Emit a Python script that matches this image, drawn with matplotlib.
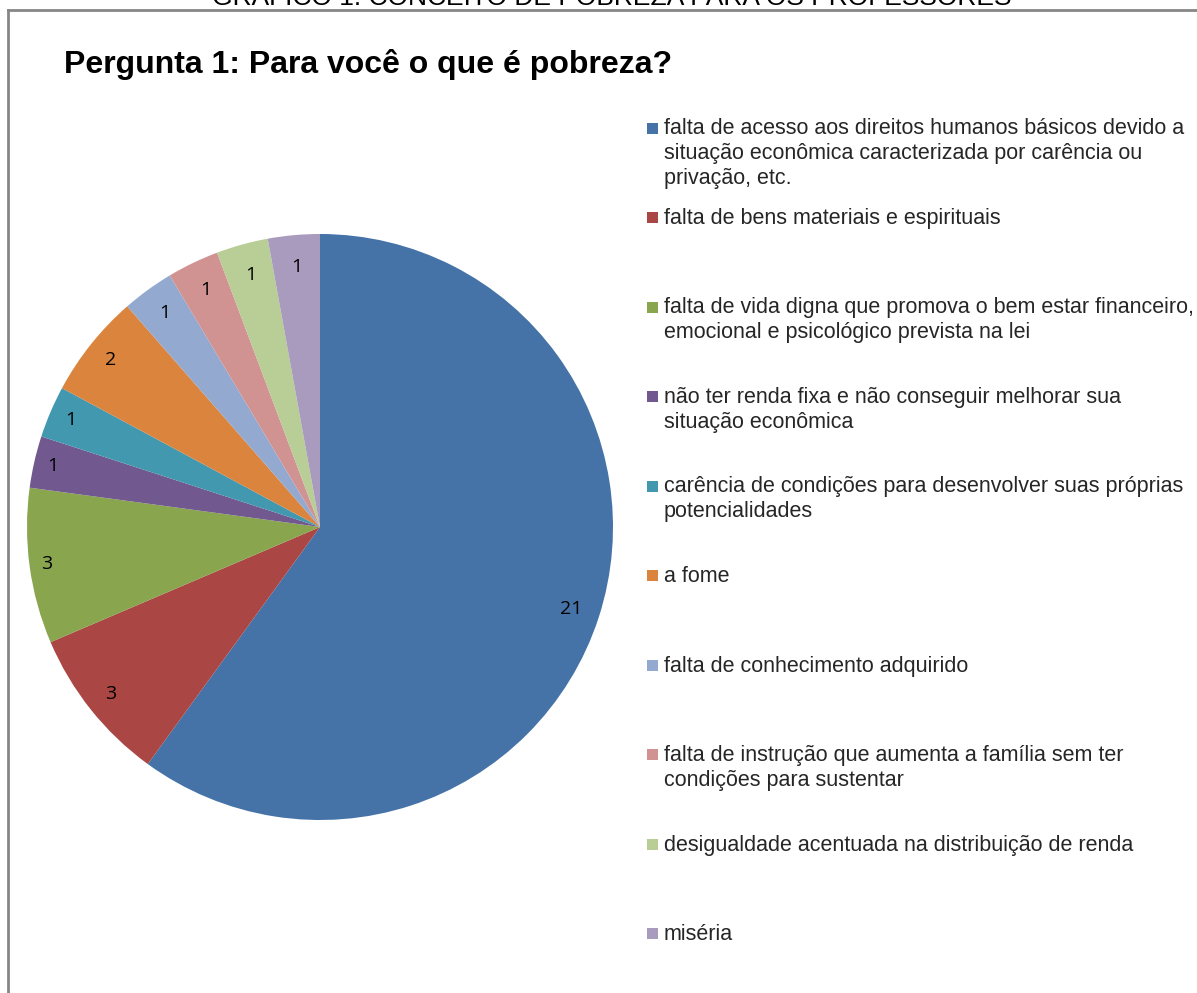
import matplotlib
matplotlib.use("Agg")
import numpy as np
import matplotlib.pyplot as plt
from matplotlib.patches import Rectangle
from matplotlib.lines import Line2D

W, H = 1197, 993

categories = [
    "falta de acesso aos direitos humanos básicos devido a\nsituação econômica caracterizada por carência ou\nprivação, etc.",
    "falta de bens materiais e espirituais",
    "falta de vida digna que promova o bem estar financeiro,\nemocional e psicológico prevista na lei",
    "não ter renda fixa e não conseguir melhorar sua\nsituação econômica",
    "carência de condições para desenvolver suas próprias\npotencialidades",
    "a fome",
    "falta de conhecimento adquirido",
    "falta de instrução que aumenta a família sem ter\ncondições para sustentar",
    "desigualdade acentuada na distribuição de renda",
    "miséria",
]
values = [21, 3, 3, 1, 1, 2, 1, 1, 1, 1]
colors = ["#4572A7", "#AA4643", "#89A54E", "#71588F", "#4198AF",
          "#DB843D", "#93A9CF", "#D19392", "#B9CD96", "#A99BBD"]

title = "Pergunta 1: Para você o que é pobreza?"
top_caption = "GRÁFICO 1: CONCEITO DE POBREZA PARA OS PROFESSORES"

plt.rcParams['font.family'] = ['Liberation Sans', 'DejaVu Sans']

fig = plt.figure(figsize=(W / 100, H / 100), dpi=100)

def fx(px):
    return px / W

def fy(py):
    return 1 - py / H

# frame border
fig.add_artist(Line2D([fx(8), fx(8)], [fy(10), fy(H + 5)], color="#868686", lw=2))
fig.add_artist(Line2D([fx(8), fx(W + 5)], [fy(10), fy(10)], color="#868686", lw=2))

# caption of the page, cut off at the top edge as in the source
fig.text(fx(612), fy(5), top_caption, ha="center", va="baseline", fontsize=19, color="#000000")

# chart title
fig.text(fx(64), fy(73), title, ha="left", va="baseline", fontsize=23, fontweight="bold")

# pie
cx, cy, r = 320, 527, 293
ax = fig.add_axes([fx(cx - r), fy(cy + r), 2 * r / W, 2 * r / H])
wedges, texts = ax.pie(values, colors=colors, startangle=90, counterclock=False,
                       labels=[str(v) for v in values], labeldistance=0.88,
                       wedgeprops=dict(edgecolor="none"),
                       textprops=dict(fontsize=14, family=["Open Sans", "DejaVu Sans"]))
for w, t in zip(wedges, texts):
    th = np.deg2rad((w.theta1 + w.theta2) / 2)
    d = 0.95 - 0.06 * abs(np.sin(th))
    if len(t.get_text()) > 1:
        d -= 0.03
    t.set_position((d * np.cos(th), d * np.sin(th)))
    t.set_ha("center")
    t.set_va("center")
ax.set_aspect("equal")
ax.set_xlim(-1, 1)
ax.set_ylim(-1, 1)
ax.axis("off")

# legend drawn manually
base_first, base_last = 135, 940
step = (base_last - base_first) / (len(categories) - 1)
line_px = 24.5
for i, (lab, col) in enumerate(zip(categories, colors)):
    yb = base_first + i * step
    fig.add_artist(Rectangle((fx(647), fy(yb - 1)), fx(11), fy(0) - fy(11),
                             facecolor=col, edgecolor="none"))
    nlines = lab.count("\n")
    fig.text(fx(664), fy(yb + nlines * line_px), lab, ha="left", va="baseline",
             fontsize=15.5, color="#262626", linespacing=1.25)

fig.savefig("out.png", dpi=100)
